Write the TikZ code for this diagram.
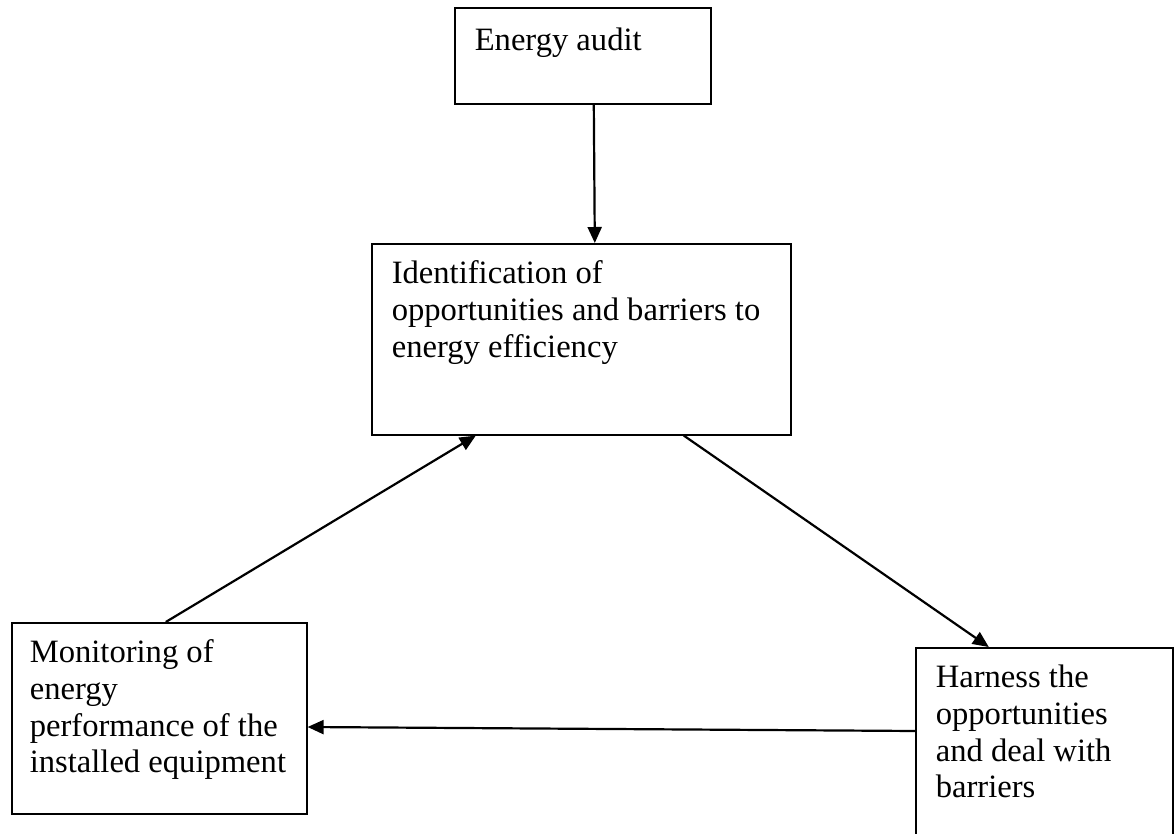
\documentclass[tikz,border=0pt]{standalone}
\usepackage{fontspec}
\setmainfont{Liberation Serif}
\usetikzlibrary{positioning,arrows.meta}
\hyphenpenalty=10000
\exhyphenpenalty=10000

\begin{document}
\begin{tikzpicture}[
    x=0.5pt, y=-0.5pt,
    stagebox/.style={draw, line width=0.8pt, anchor=north west, align=flush left, inner xsep=10pt, inner ysep=0pt, text height=20pt, font=\fontsize{16.3}{18.35}\selectfont},
    flowarrow/.style={-{Triangle[length=8pt,width=7pt]}, line width=1.1pt}
]
\useasboundingbox (0,0) rectangle (1174,834);

% Boxes
\node[stagebox, text width=108pt, text height=21.5pt, text depth=26.5pt] (audit) at (454,7) {Energy audit};

\node[stagebox, text width=189.5pt, text depth=75.5pt] (ident) at (371,243) {Identification of\\
opportunities and barriers to\\
energy efficiency};

\node[stagebox, inner xsep=9pt, text width=129.5pt, text depth=75.5pt] (monitor) at (11,622) {Monitoring of\\
energy\\
performance of the\\
installed equipment};

\node[stagebox, text width=108.5pt, text depth=76.5pt] (harness) at (915,647) {Harness the\\
opportunities\\
and deal with\\
barriers};

% Arrows
\draw[flowarrow] ([xshift=5.5pt]audit.south) -- ([xshift=6.75pt]ident.north);
\draw[flowarrow] ([xshift=51.25pt]ident.south) -- ([xshift=-27.75pt]harness.north);
\draw[flowarrow] ([yshift=-42pt]harness.north west) -- ([yshift=-52.5pt]monitor.north east);
\draw[flowarrow] ([xshift=3.25pt]monitor.north) -- ([xshift=-52.75pt]ident.south);
\end{tikzpicture}
\end{document}
